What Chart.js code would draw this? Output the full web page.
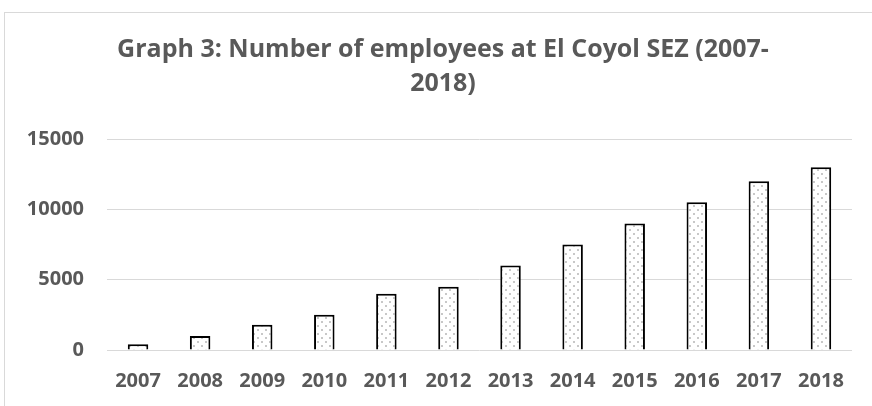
<!DOCTYPE html>
<html>
<head>
<meta charset="utf-8">
<script src="https://cdn.jsdelivr.net/npm/chart.js@4"></script>
<style>
  body{margin:0;background:#fff;}
  #frame{position:absolute;left:4px;top:12px;width:900px;height:420px;border:1px solid #d9d9d9;}
  #wrap{position:absolute;left:0;top:0;width:872px;height:406px;}
</style>
</head>
<body>
<div id="frame"></div>
<div id="wrap"><canvas id="c" width="872" height="406"></canvas></div>
<script>
const years = ['2007','2008','2009','2010','2011','2012','2013','2014','2015','2016','2017','2018'];
const employees = [400, 1000, 1800, 2500, 4000, 4500, 6000, 7500, 9000, 10500, 12000, 13000];
const yTicks = [0, 5000, 10000, 15000];

// dotted fill like the excel pattern
function dotPattern(){
    const p = document.createElement('canvas');
    p.width = 8; p.height = 8;
    const g = p.getContext('2d');
    g.fillStyle = '#ffffff';
    g.fillRect(0,0,8,8);
    g.fillStyle = '#c8c8c8';
    g.fillRect(1,1,2,2);
    g.fillRect(5,5,2,2);
    return g.createPattern(p, 'repeat');
}

// title sits a bit right of canvas center in the original
const shiftTitle = {
    id: 'shiftTitle',
    afterLayout(chart){ if(chart.titleBlock) chart.titleBlock.left += 34; }
};

const ctx = document.getElementById('c').getContext('2d');
const font = '"Open Sans", Lato, sans-serif';
new Chart(ctx, {
    type: 'bar',
    data: {
        labels: years,
        datasets: [{
            data: employees,
            backgroundColor: dotPattern(),
            borderColor: '#000000',
            borderWidth: 2,
            barPercentage: 0.33,
            categoryPercentage: 1
        }]
    },
    options: {
        responsive: false,
        animation: false,
        layout: {padding: {left: 0, right: 20, top: 0, bottom: 0}},
        plugins: {
            legend: {display: false},
            tooltip: {enabled: false},
            title: {
                display: true,
                text: ['Graph 3: Number of employees at El Coyol SEZ (2007-', '2018)'],
                color: '#595959',
                font: {family: font, size: 25, weight: 700, lineHeight: 1.36},
                padding: {top: 33, bottom: 38}
            }
        },
        scales: {
            x: {
                afterFit: s => { s.height = 56; },
                grid: {display: false, drawTicks: false},
                border: {display: false},
                ticks: {color: '#595959', font: {family: font, size: 20, weight: 700}, padding: 19}
            },
            y: {
                min: 0, max: 15000,
                afterBuildTicks: s => { s.ticks = yTicks.map(v => ({value: v})); },
                afterFit: s => { s.width = 107; },
                grid: {color: '#d9d9d9', lineWidth: 1, drawTicks: false},
                border: {display: false},
                ticks: {
                    color: '#595959', font: {family: font, size: 20, weight: 700}, padding: 23,
                    callback: v => String(v)
                }
            }
        }
    },
    plugins: [shiftTitle]
});
</script>
</body>
</html>
